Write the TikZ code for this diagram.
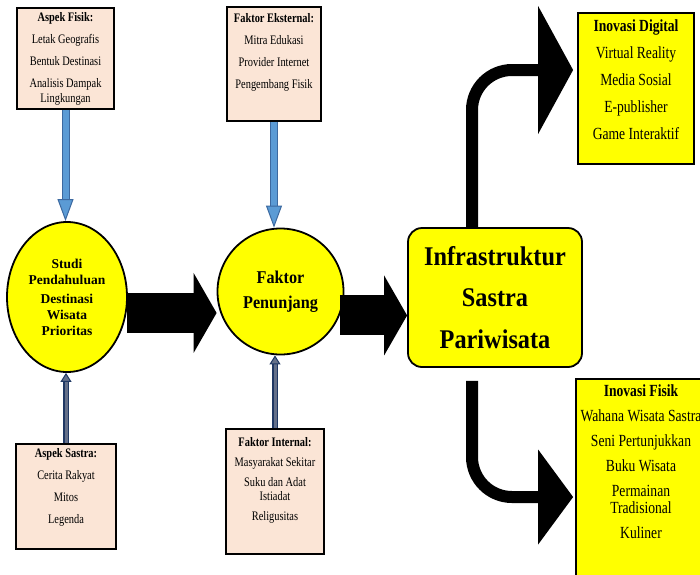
\documentclass[tikz,border=0pt]{standalone}
\usepackage{fontspec}
\setmainfont{Liberation Serif}[FakeStretch=0.8]
\newfontfamily\hurufsempit{Liberation Serif}[FakeStretch=0.9]
\newfontfamily\hurufbesar{Liberation Serif}
\usetikzlibrary{shapes.geometric}
\usetikzlibrary{arrows.meta}

\definecolor{krem}{RGB}{251,229,214}
\definecolor{kuning}{RGB}{255,255,0}
\definecolor{biru}{RGB}{91,155,213}
\definecolor{birutua}{RGB}{60,105,160}
\definecolor{navy}{RGB}{31,56,100}
\definecolor{navymuda}{RGB}{100,112,138}

\newcommand{\isi}[3]{%
	\begin{minipage}[c][#2][t]{#1}\centering#3\end{minipage}}

\tikzset{
	kotak/.style = {
		rectangle,
		draw=black,
		line width=2.2pt,
		fill=krem,
		inner sep=0pt,
		font=\fontsize{13}{15}\selectfont
	},
	kotakkuning/.style = {
		rectangle,
		draw=black,
		line width=1.8pt,
		fill=kuning,
		inner sep=0pt,
		font=\fontsize{17}{17}\selectfont
	},
	bulat/.style = {
		ellipse,
		draw=black,
		line width=1.8pt,
		fill=kuning,
		inner sep=0pt,
		align=center
	},
	panahbesar/.style = {
		line width=40pt,
		-{Triangle[length=23pt, width=80pt, line width=0pt]}
	},
	panahlengkung/.style = {
		line width=12pt,
		rounded corners=40pt
	},
	panahbiru/.style = {
		draw=biru,
		line width=6pt,
		-{Triangle[length=22pt, width=16pt, line width=1pt, color=birutua, fill=biru]},
		preaction={draw=birutua, line width=8pt, -, shorten >=22pt}
	},
	panahtua/.style = {
		draw=navymuda,
		line width=3pt,
		-{Triangle[length=9pt, width=11pt, line width=1pt, color=navy, fill=navymuda]},
		preaction={draw=navy, line width=6pt, -, shorten >=9pt}
	},
}

\begin{document}
\begin{tikzpicture}[x=1pt, y=-1pt]
\useasboundingbox (0,0) rectangle (700,574);

\node [kotak] (fisik) at (65.5,58.5) {\isi{97pt}{101pt}{\vspace*{4pt}\textbf{Aspek Fisik:}\\[7pt]Letak Geografis\\[7pt]Bentuk Destinasi\\[7pt]Analisis Dampak\\Lingkungan}};
\node [kotak] (sastra) at (66,496.5) {\isi{100pt}{105pt}{\vspace*{4pt}\textbf{Aspek Sastra:}\\[7pt]Cerita Rakyat\\[7pt]Mitos\\[7pt]Legenda}};
\node [kotak] (eksternal) at (274,64) {\isi{94pt}{114pt}{\vspace*{6pt}\textbf{Faktor Eksternal:}\\[7pt]Mitra Edukasi\\[7pt]Provider Internet\\[7pt]Pengembang Fisik}};
\node [kotak] (internal) at (275,491.5) {\isi{98pt}{125pt}{\fontsize{13}{14}\selectfont\vspace*{8pt}\textbf{Faktor Internal:}\\[6pt]Masyarakat Sekitar\\[6pt]Suku dan Adat\\Istiadat\\[6pt]Religusitas}};

\node [bulat, minimum width=120pt, minimum height=150pt, font=\hurufbesar\bfseries\fontsize{13.5}{16}\selectfont] (studi) at (67,297) {Studi\\Pendahuluan\\[3pt]Destinasi\\Wisata\\Prioritas};
\node [bulat, circle, minimum size=126pt, font=\hurufsempit\bfseries\fontsize{18}{25}\selectfont] (penunjang) at (280.5,291.5) {Faktor\\Penunjang};
\node [kotakkuning, rounded corners=14pt, minimum width=174pt, minimum height=139pt, align=center, font=\hurufsempit\bfseries\fontsize{27}{41.5}\selectfont] (infra) at (495,297.5) {Infrastruktur\\Sastra\\Pariwisata};

\node [kotakkuning] (digital) at (636,88.5) {\isi{116pt}{151pt}{\vspace*{7pt}\textbf{Inovasi Digital}\\[10pt]Virtual Reality\\[10pt]Media Sosial\\[10pt]E-publisher\\[10pt]Game Interaktif}};
\node [kotakkuning] (inovfisik) at (641,479) {\isi{130pt}{200pt}{\vspace*{6pt}\textbf{Inovasi Fisik}\\[8pt]Wahana Wisata Sastra\\[8pt]Seni Pertunjukkan\\[8pt]Buku Wisata\\[8pt]Permainan\\Tradisional\\[8pt]Kuliner}};

\draw [panahbiru] (fisik.south) -- (fisik.south |- studi.north);
\draw [panahbiru] (eksternal.south) -- (eksternal.south |- penunjang.north);
\draw [panahtua] (sastra.north) -- (sastra.north |- studi.south);
\draw [panahtua] (internal.north) -- (internal.north |- penunjang.south);

\draw [panahbesar] (studi.-15) -- (studi.-15 -| penunjang.west);
\draw [panahbesar] (penunjang.-22) -- (penunjang.-22 -| infra.west);

\draw [panahlengkung, -{Triangle[length=35pt, width=128pt, line width=0pt]}] ([xshift=-23pt]infra.north) |- ([yshift=18.5pt, xshift=-4pt]digital.west);
\draw [panahlengkung, -{Triangle[length=35pt, width=95pt, line width=0pt]}] ([xshift=-23pt, yshift=-13pt]infra.south) |- ([yshift=-18pt, xshift=-2pt]inovfisik.west);
\end{tikzpicture}
\end{document}
